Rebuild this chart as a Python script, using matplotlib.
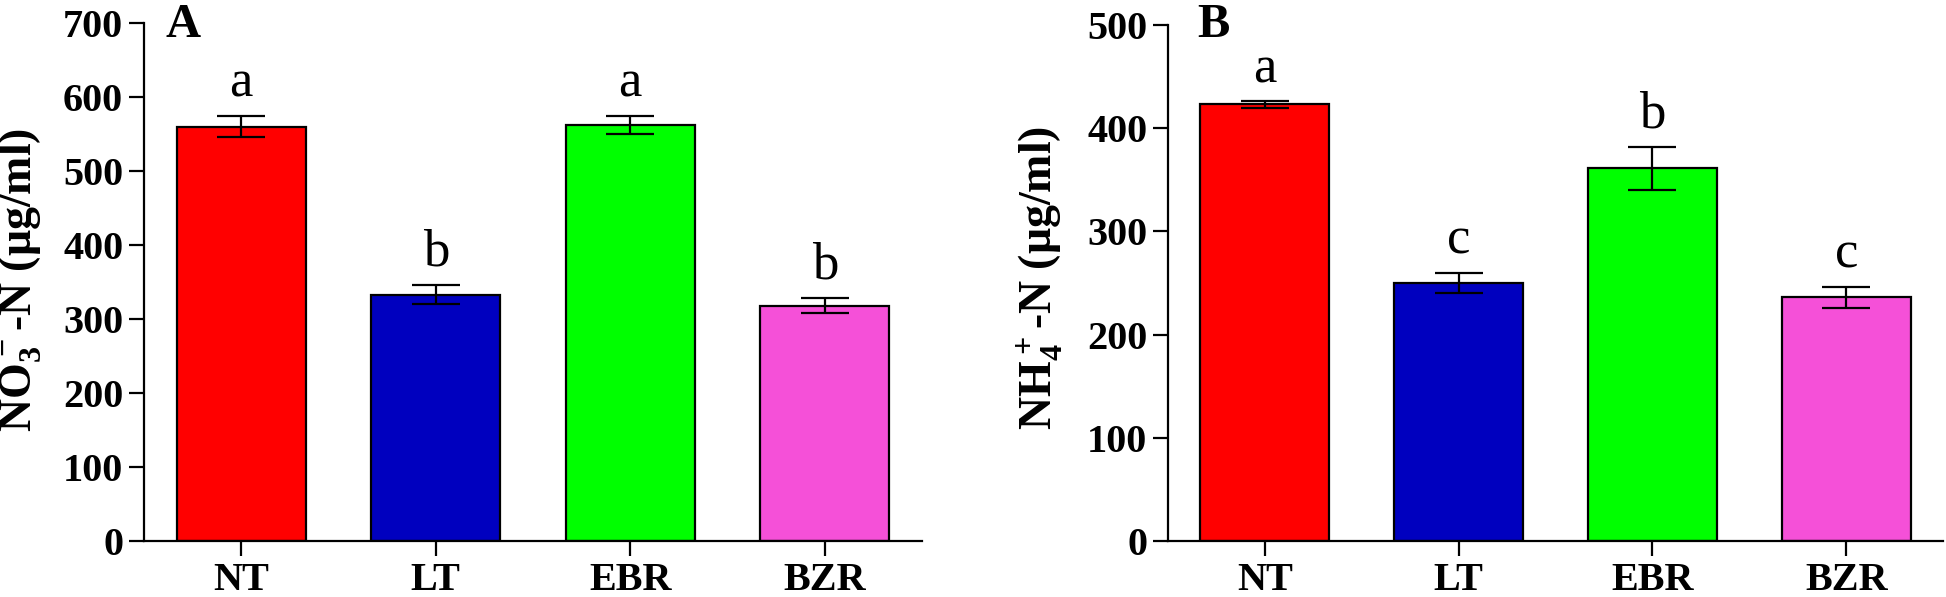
import matplotlib
matplotlib.use("Agg")
import matplotlib.pyplot as plt

# treatments and colours
groups = ["NT", "LT", "EBR", "BZR"]
colors = ["#FF0000", "#0000BF", "#00FF00", "#F550D8"]

# panel A: nitrate
no3_mean = [560, 333, 562, 318]
no3_err = [14, 13, 12, 10]
no3_sig = ["a", "b", "a", "b"]

# panel B: ammonium
nh4_mean = [423, 250, 361, 236]
nh4_err = [3, 10, 21, 10]
nh4_sig = ["a", "c", "b", "c"]

plt.rcParams["font.family"] = "Liberation Serif"
plt.rcParams["mathtext.fontset"] = "custom"
plt.rcParams["mathtext.rm"] = "Liberation Serif:bold"
plt.rcParams["mathtext.bf"] = "Liberation Serif:bold"
plt.rcParams["mathtext.default"] = "bf"

fig = plt.figure(figsize=(19.46, 5.97), dpi=100)
ax1 = fig.add_axes([0.0740, 0.0938, 0.3998, 0.8677])
ax2 = fig.add_axes([0.6002, 0.0938, 0.3983, 0.8643])


def draw(ax, means, errs, sig, ymax, step):
    x = list(range(len(groups)))
    ax.bar(x, means, width=0.665, color=colors, edgecolor="black", linewidth=1.6, zorder=2)
    ax.errorbar(x, means, yerr=errs, fmt="none", ecolor="black", elinewidth=1.6,
                capsize=17, capthick=1.6, zorder=3)
    for xi, m, e, s in zip(x, means, errs, sig):
        ax.annotate(s, (xi, m + e), xytext=(0, 6), textcoords="offset points",
                    ha="center", va="bottom", fontsize=38)
    ax.set_xlim(-0.5, 3.5)
    ax.set_ylim(0, ymax)
    ax.set_yticks(range(0, ymax + 1, step))
    ax.set_xticks(x)
    ax.set_xticklabels(groups)
    for side in ["top", "right"]:
        ax.spines[side].set_visible(False)
    for side in ["left", "bottom"]:
        ax.spines[side].set_linewidth(1.6)
    ax.tick_params(width=1.6, length=11, labelsize=29, pad=4)
    for lab in ax.get_xticklabels() + ax.get_yticklabels():
        lab.set_fontweight("bold")


draw(ax1, no3_mean, no3_err, no3_sig, 700, 100)
draw(ax2, nh4_mean, nh4_err, nh4_sig, 500, 100)

fig.text(20 / 1946, 1 - 280 / 597, r"NO$_3^-$-N (μg/ml)", rotation=90,
         ha="center", va="center", fontsize=33, fontweight="bold")
fig.text(1040 / 1946, 1 - 278 / 597, r"NH$_4^+$-N (μg/ml)", rotation=90,
         ha="center", va="center", fontsize=33, fontweight="bold")

fig.text(165 / 1946, 1 - 37 / 597, "A", ha="left", va="baseline", fontsize=35, fontweight="bold")
fig.text(1197 / 1946, 1 - 37 / 597, "B", ha="left", va="baseline", fontsize=35, fontweight="bold")

fig.savefig("out.png", dpi=100)
